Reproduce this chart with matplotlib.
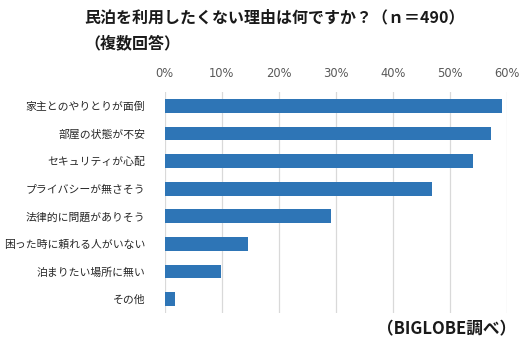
import matplotlib
matplotlib.use("Agg")
import matplotlib.pyplot as plt
from matplotlib.ticker import FuncFormatter

plt.rcParams['font.family'] = ['Noto Sans CJK JP', 'DejaVu Sans']

categories = ["家主とのやりとりが面倒", "部屋の状態が不安", "セキュリティが心配",
              "プライバシーが無さそう", "法律的に問題がありそう", "困った時に頼れる人がいない",
              "泊まりたい場所に無い", "その他"]
values = [59.0, 57.2, 54.0, 46.9, 29.2, 14.6, 9.8, 1.8]
xticks = [0, 10, 20, 30, 40, 50, 60]
title1 = "民泊を利用したくない理由は何ですか？（ｎ＝490）"
title2 = "（複数回答）"
footer = "（BIGLOBE調べ）"

fig = plt.figure(figsize=(5.30, 3.45), dpi=100)
top_px, bot_px = 92, 313
ax = fig.add_axes([164.7/530, 1-bot_px/345, 342.6/530, (bot_px-top_px)/345])

y = list(range(len(categories)))
ax.barh(y, values, height=0.5, color="#2E75B6", zorder=3)
ax.set_yticks(y)
ax.set_yticklabels(categories, fontsize=7.8, color="#262626")
ax.set_ylim(len(categories)-0.5, -0.5)
ax.set_xlim(0, 60)
ax.set_xticks(xticks)
ax.xaxis.set_major_formatter(FuncFormatter(lambda v, p: f"{int(v)}%"))
ax.xaxis.tick_top()
ax.tick_params(axis='x', length=0, pad=8.5, labelcolor="#595959")
for lbl in ax.get_xticklabels():
    lbl.set_family(['DejaVu Sans'])
    lbl.set_fontsize(8.3)
ax.tick_params(axis='y', length=0, pad=14)
ax.grid(axis='x', color="#D9D9D9", linewidth=0.9, zorder=0)
for s in ax.spines.values():
    s.set_visible(False)

fig.text(84/530, 1-17/345, title1, fontsize=11.5, fontweight='bold', va='center', ha='left', color="#1a1a1a")
fig.text(84/530, 1-43/345, title2, fontsize=11.5, fontweight='bold', va='center', ha='left', color="#1a1a1a")
fig.text(516/530, 1-329/345, footer, fontsize=12, fontweight='bold', va='center', ha='right', color="#1a1a1a")

fig.savefig("out.png", dpi=100)
